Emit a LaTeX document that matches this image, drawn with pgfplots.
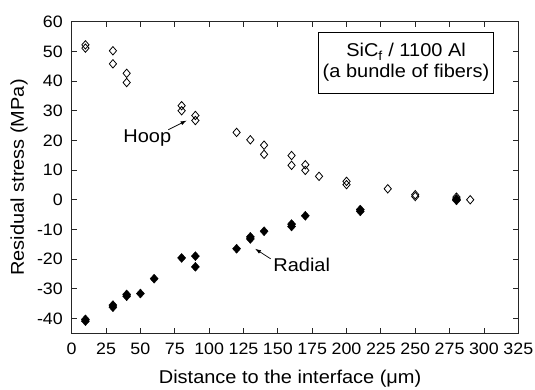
\documentclass[border=0pt]{standalone}
\usepackage{fontspec}
\setmainfont{Liberation Sans}[FakeStretch=1.08]
\usepackage{pgfplots}
\pgfplotsset{compat=1.18}
\usetikzlibrary{arrows.meta}
\pgfplotstableread{
x y
10 52.2
10 51.1
30 50.2
30 45.8
40 42.6
40 39.5
80 31.7
80 30.0
90 28.4
90 26.7
120 22.7
130 20.2
140 18.4
140 15.3
160 14.9
160 11.6
170 11.8
170 9.9
180 7.9
200 6.2
200 5.1
230 3.7
250 1.7
250 1.1
280 0.9
280 0.2
290 0.0
}\hoop
\pgfplotstableread{
x y
10 -40.3
10 -40.9
30 -35.5
30 -36.2
40 -31.9
40 -32.5
50 -31.6
60 -26.6
80 -19.6
90 -19.0
90 -22.6
120 -16.5
130 -12.5
130 -13.2
140 -10.6
160 -8.2
160 -9.0
170 -5.4
210 -3.3
210 -3.9
280 0.2
280 -0.2
}\radial
\begin{document}
\begin{tikzpicture}
\useasboundingbox (0,0) rectangle (535bp,390bp);
\begin{axis}[
  at={(71.7bp,56.7bp)}, anchor=south west,
  scale only axis, width=446.6bp, height=311.6bp,
  xmin=0, xmax=325, ymin=-45, ymax=60,
  xtick={0,25,...,325}, ytick={-40,-30,...,60},
  tick align=inside, major tick length=5bp,
  axis line style={line width=0.9bp, black!85},
  every tick/.style={line width=0.8bp, black!85},
  /pgf/number format/assume math mode=true,
  tick label style={font=\fontsize{16.5bp}{18bp}\selectfont, inner sep=0pt},
  xticklabel shift=9.7bp, yticklabel shift=8.7bp,
  xlabel={Distance to the interface (μm)},
  ylabel={Residual stress (MPa)},
  label style={font=\fontsize{18.5bp}{21bp}\selectfont},
  xlabel style={at={(axis description cs:0.489,-0.1467)}, anchor=center},
  ylabel style={at={(axis description cs:-0.118,0.5)}, anchor=center},
  clip=false,
]
\addplot[only marks, mark=diamond, mark size=4.2bp, mark options={line width=0.8bp, black, fill=white, xscale=1.15}] table[x=x,y=y]{\hoop};
\addplot[only marks, mark=diamond*, mark size=4.5bp, mark options={black, fill=black, xscale=1.2}] table[x=x,y=y]{\radial};
\node[font=\fontsize{18.5bp}{21bp}\selectfont] at (axis cs:55,20.8) {Hoop};
\draw[line width=0.7bp, -{Latex[length=6bp,width=4bp]}] (axis cs:70.3,23.6) -- (axis cs:83.7,26.7);
\node[font=\fontsize{18.5bp}{21bp}\selectfont] at (axis cs:167.4,-21.8) {Radial};
\draw[line width=0.7bp, -{Latex[length=6bp,width=4bp]}] (axis cs:144.8,-19.9) -- (axis cs:133.4,-16.5);
\node[draw, line width=0.8bp, minimum width=175.7bp, minimum height=61bp, align=center, inner sep=0pt, font=\fontsize{18.5bp}{21bp}\selectfont] at (axis cs:243.3,46.2) {SiC\textsubscript{f} / 1100 Al\\(a bundle of fibers)};
\end{axis}
\end{tikzpicture}
\end{document}
